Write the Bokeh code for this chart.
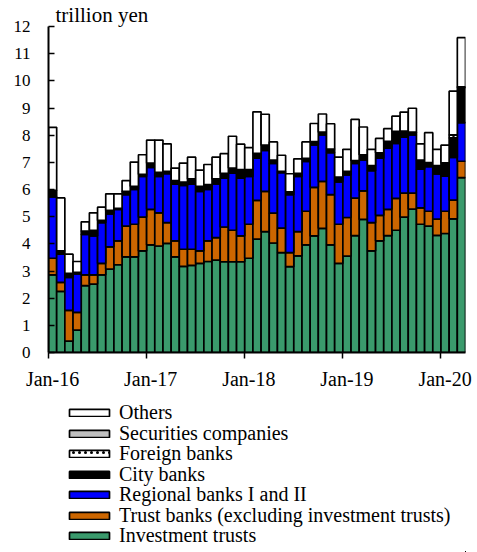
from bokeh.plotting import figure
from bokeh.models import Legend, LegendItem, FixedTicker, Range1d, ColumnDataSource, LinearAxis
from bokeh.layouts import column
from bokeh.embed import file_html
from bokeh.resources import INLINE
import pandas as pd

# Monthly categories: Jan-2016 .. Mar-2020
months = [d.strftime("%b-%y") for d in pd.date_range("2016-01-01", "2020-03-01", freq="MS")]
tick_months = ["Jan-16", "Jan-17", "Jan-18", "Jan-19", "Jan-20"]
y_ticks = list(range(0, 13))

investment_trusts = [2.86, 2.25, 0.42, 0.82, 2.46, 2.52, 2.86, 3.07, 3.23, 3.52,
                     3.52, 3.74, 3.96, 3.92, 4.02, 3.52, 3.17, 3.21, 3.28, 3.35,
                     3.40, 3.34, 3.34, 3.34, 3.47, 4.17, 4.45, 4.03, 3.68, 3.16,
                     3.56, 3.96, 4.29, 4.57, 3.96, 3.28, 3.55, 4.30, 4.90, 3.74,
                     4.11, 4.30, 4.50, 4.98, 5.28, 4.72, 4.65, 4.31, 4.38, 4.92,
                     6.44]
trust_banks = [0.61, 0.33, 1.13, 0.66, 0.40, 0.34, 0.42, 0.82, 0.88, 1.13,
               1.20, 1.24, 1.31, 1.22, 0.76, 0.59, 0.63, 0.59, 0.46, 0.76,
               0.83, 1.28, 1.16, 0.95, 1.25, 1.43, 1.48, 1.10, 0.90, 0.52,
               0.89, 1.24, 1.79, 1.73, 1.85, 1.44, 1.42, 1.38, 1.05, 1.04,
               0.94, 0.97, 1.17, 0.89, 0.59, 0.60, 0.55, 0.60, 0.82, 0.69,
               0.60]
regional_banks = [2.26, 1.04, 1.21, 1.41, 1.49, 1.43, 1.50, 1.21, 1.16, 1.16,
                  1.28, 1.50, 1.54, 1.34, 1.80, 2.09, 2.35, 2.40, 2.19, 1.89,
                  1.98, 1.80, 2.10, 2.13, 1.76, 1.55, 1.51, 1.83, 2.04, 2.13,
                  2.03, 1.83, 1.56, 1.71, 1.55, 1.56, 1.57, 1.28, 1.14, 1.91,
                  2.10, 2.25, 2.03, 2.06, 2.14, 1.43, 1.64, 1.66, 1.29, 1.57,
                  1.42]
city_banks = [0.24, 0.12, 0.15, 0.06, 0.12, 0.21, 0.08, 0.13, 0.04, 0.12,
              0.12, 0.08, 0.16, 0.15, 0.09, 0.13, 0.12, 0.19, 0.19, 0.18,
              0.18, 0.17, 0.19, 0.31, 0.25, 0.18, 0.19, 0.12, 0.05, 0.10,
              0.11, 0.12, 0.12, 0.10, 0.13, 0.18, 0.13, 0.10, 0.19, 0.19,
              0.20, 0.25, 0.44, 0.22, 0.08, 0.33, 0.15, 0.31, 0.47, 0.72,
              1.29]
foreign_banks = [0.0, 0.0, 0.0, 0.0, 0.0, 0.0, 0.0, 0.0, 0.0, 0.0,
                 0.0, 0.0, 0.0, 0.0, 0.0, 0.0, 0.0, 0.0, 0.0, 0.0,
                 0.0, 0.0, 0.0, 0.0, 0.0, 0.0, 0.0, 0.0, 0.0, 0.0,
                 0.0, 0.0, 0.0, 0.0, 0.0, 0.0, 0.0, 0.0, 0.0, 0.0,
                 0.0, 0.0, 0.0, 0.0, 0.02, 0.0, 0.0, 0.0, 0.02, 0.11,
                 0.03]
securities_companies = [0.0] * 51
others = [2.32, 1.95, 0.71, 0.40, 0.34, 0.64, 0.49, 0.61, 0.53, 0.40,
          0.89, 0.72, 0.85, 1.19, 1.01, 0.46, 0.70, 0.80, 0.59, 0.74,
          0.80, 0.73, 1.17, 0.94, 0.81, 1.53, 1.14, 0.67, 0.59, 0.67,
          0.54, 0.60, 0.67, 0.67, 0.93, 0.73, 0.81, 1.52, 1.02, 0.60,
          0.53, 0.47, 0.56, 0.70, 0.88, 0.60, 1.10, 0.60, 0.65, 1.61,
          1.81]

series_keys = ["inv", "trust", "reg", "city", "foreign", "sec", "oth"]
series_names = ["Investment trusts", "Trust banks (excluding investment trusts)",
                "Regional banks I and II", "City banks", "Foreign banks",
                "Securities companies", "Others"]
colors = ["#3A9A6C", "#CC6600", "#0000FF", "#000000", "#FFFFFF", "#BFBFBF", "#FFFFFF"]

FONT = "Liberation Serif"
LW = 1.7

src = ColumnDataSource(dict(
    x=[i + 0.5 for i in range(len(months))],
    month=months,
    inv=investment_trusts, trust=trust_banks, reg=regional_banks, city=city_banks,
    foreign=foreign_banks, sec=securities_companies, oth=others,
))


def style_foreign(rs):
    rs[4].glyph.hatch_pattern = "dot"
    rs[4].glyph.hatch_color = "black"
    rs[4].glyph.hatch_scale = 6


# ---------------- main chart ----------------
FRAME_LEFT = 48
P_H = 392
p = figure(width=472, height=P_H, output_backend="svg", toolbar_location=None,
           x_range=Range1d(0, len(months)), y_range=Range1d(0, 12),
           min_border_left=FRAME_LEFT, min_border_right=7, min_border_top=0,
           min_border_bottom=40)
p.outline_line_color = None
p.grid.visible = False
p.background_fill_color = "white"

p.title.text = "trillion yen"
p.title.text_font = FONT
p.title.text_font_size = "21px"
p.title.text_font_style = "normal"
p.title.align = "left"
p.title.offset = 7
p.title.standoff = 0
p.title.text_color = "black"

renderers = p.vbar_stack(series_keys, x="x", width=1.0, source=src,
                         fill_color=colors, line_color="black", line_width=LW)
style_foreign(renderers)

# x axis: tick marks at the start of each January, no labels
xa = p.xaxis[0]
xa.ticker = FixedTicker(ticks=[0, 12, 24, 36, 48])
xa.major_tick_out = 6
xa.major_tick_in = 0
xa.minor_tick_out = 0
xa.minor_tick_in = 0
xa.axis_line_width = 2
xa.major_tick_line_width = 1.5
xa.major_label_standoff = 0
xa.major_label_text_font_size = "1px"
xa.major_label_text_color = None

# x labels centred on the January bars
xl = LinearAxis(ticker=FixedTicker(ticks=[0.5, 12.5, 24.5, 36.5, 48.5]))
xl.major_label_overrides = {0.5: tick_months[0], 12.5: tick_months[1], 24.5: tick_months[2],
                            36.5: tick_months[3], 48.5: tick_months[4]}
xl.axis_line_color = None
xl.major_tick_line_color = None
xl.minor_tick_line_color = None
xl.major_tick_out = 0
xl.major_tick_in = 0
xl.minor_tick_out = 0
xl.minor_tick_in = 0
xl.major_label_standoff = 9
xl.major_label_text_font = FONT
xl.major_label_text_font_size = "20px"
xl.major_label_text_color = "black"
p.add_layout(xl, "below")

ya = p.yaxis[0]
ya.ticker = FixedTicker(ticks=y_ticks)
ya.major_tick_in = 6
ya.major_tick_out = 0
ya.minor_tick_out = 0
ya.minor_tick_in = 0
ya.axis_line_width = 2
ya.major_tick_line_width = 1.5
ya.major_label_standoff = 18
ya.major_label_text_font = FONT
ya.major_label_text_font_size = "17px"
ya.major_label_text_color = "black"

# ---------------- legend panel ----------------
Q_H = 160
q = figure(width=472, height=Q_H, output_backend="svg", toolbar_location=None,
           x_range=Range1d(-100, -99), y_range=Range1d(1000, 1001),
           x_axis_location=None, y_axis_location=None,
           min_border_left=0, min_border_right=0, min_border_top=0, min_border_bottom=0)
q.outline_line_color = None
q.grid.visible = False
q.background_fill_color = "white"

# same stacked series (entirely outside this panel's ranges) only to supply legend glyphs
proxies = q.vbar_stack(series_keys, x="x", width=1.0, source=src,
                       fill_color=colors, line_color="black", line_width=LW)
style_foreign(proxies)

# one legend entry per row, placed at the reference's row pitch
ITEM_H = 24
ROW0 = 20.5      # centre of first row, px below the top of this panel
PITCH = 20.55
GLYPH_X = 64 - FRAME_LEFT   # the panel's frame is aligned with the chart frame
for k, i in enumerate(range(6, -1, -1)):
    centre = ROW0 + PITCH * k
    bottom_from_panel_bottom = Q_H - (centre + ITEM_H / 2)
    leg = Legend(items=[LegendItem(label=series_names[i], renderers=[proxies[i]])],
                 location=(GLYPH_X, bottom_from_panel_bottom), orientation="vertical",
                 glyph_width=50, glyph_height=9, label_standoff=5, spacing=0,
                 padding=0, margin=0, border_line_color=None,
                 background_fill_alpha=0,
                 label_text_font=FONT, label_text_font_size="20px",
                 label_height=ITEM_H, label_text_color="black")
    q.add_layout(leg, "center")

layout = column(p, q, spacing=0)
open("out.html", "w").write(file_html(layout, INLINE))
